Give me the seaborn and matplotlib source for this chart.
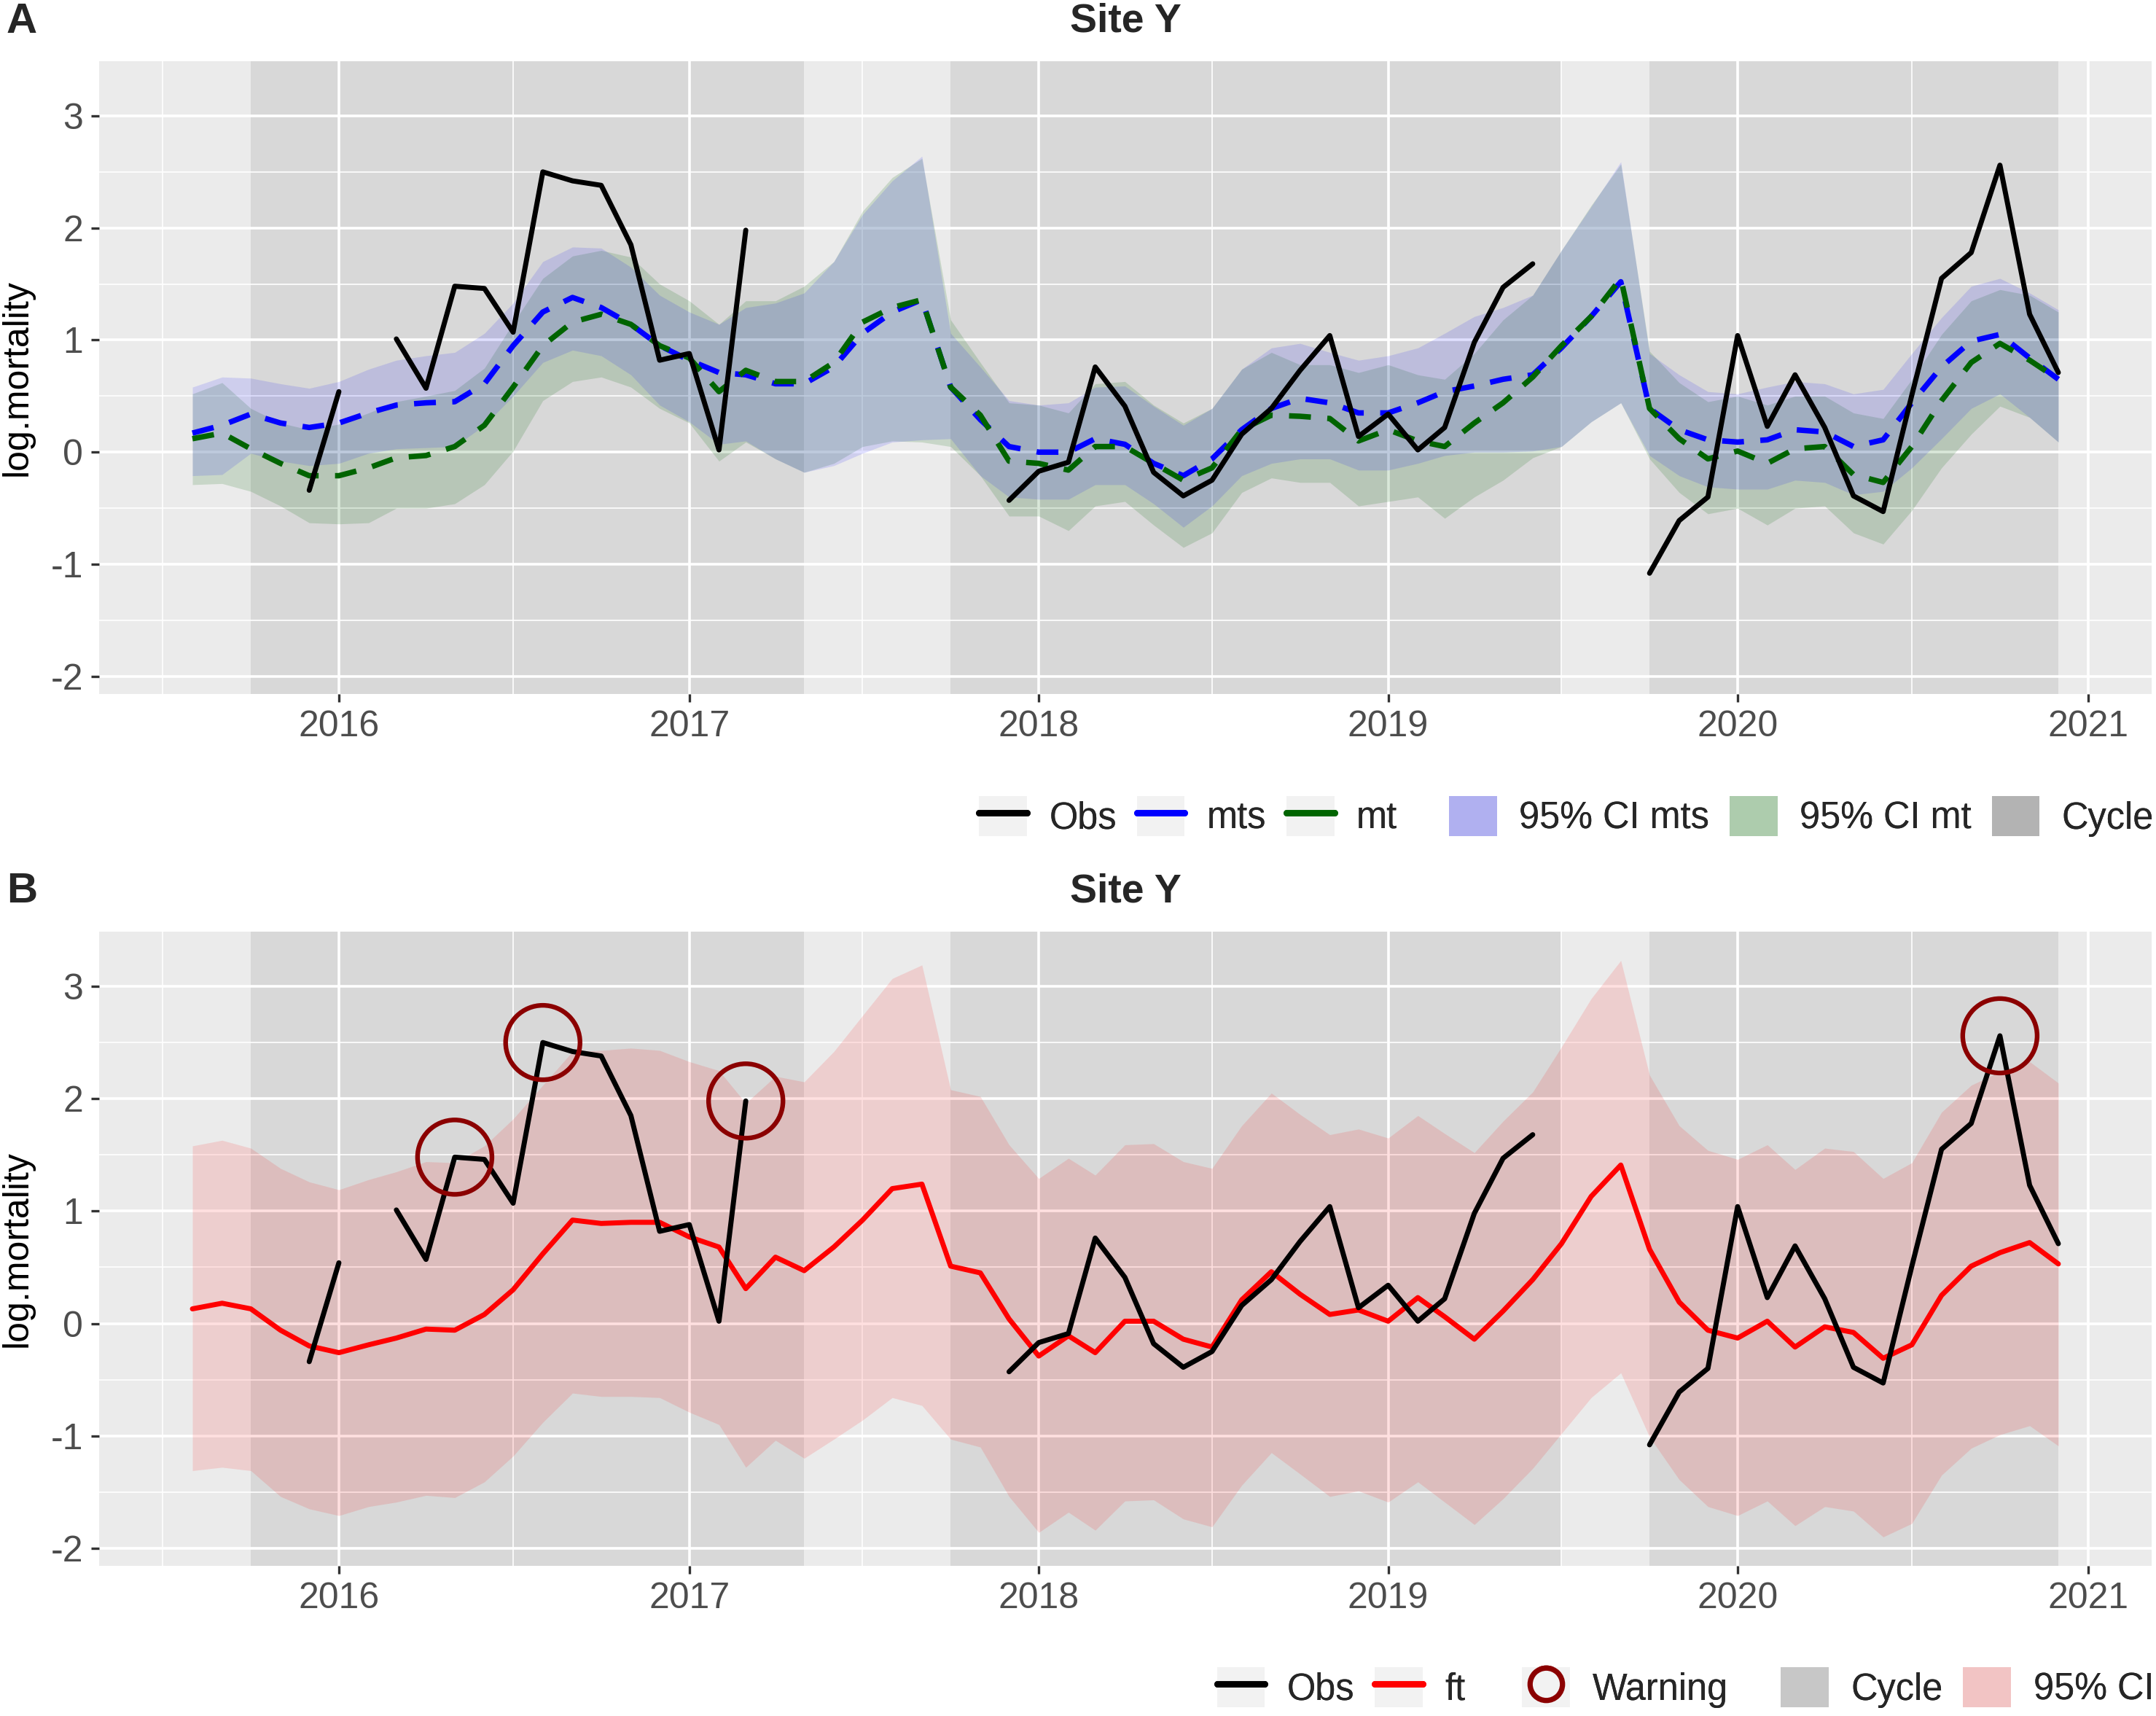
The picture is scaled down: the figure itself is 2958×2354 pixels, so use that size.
import numpy as np
import pandas as pd
import matplotlib
matplotlib.use("Agg")
import matplotlib.pyplot as plt
import matplotlib.dates as mdates
from matplotlib.ticker import MultipleLocator
from matplotlib.lines import Line2D
from matplotlib.patches import Rectangle, Patch
from matplotlib.legend_handler import HandlerBase, HandlerLine2D, HandlerPatch
import seaborn as sns

nan = np.nan
months = pd.date_range("2015-08-01", "2020-12-01", freq="MS")

# ---------------- data (Aug 2015 .. Dec 2020) ----------------
obs = [nan, nan, nan, nan, -0.34,
       0.54, nan, 1.01, 0.57, 1.48, 1.46, 1.07, 2.50, 2.42, 2.38, 1.85, 0.82,
       0.88, 0.02, 1.98, nan, nan, nan, nan, nan, nan, nan, nan, -0.43,
       -0.17, -0.09, 0.76, 0.41, -0.18, -0.39, -0.25, 0.16, 0.39, 0.73, 1.04, 0.14,
       0.34, 0.02, 0.22, 0.98, 1.47, 1.68, nan, nan, nan, -1.08, -0.61, -0.40,
       1.04, 0.23, 0.69, 0.22, -0.39, -0.53, 0.51, 1.55, 1.78, 2.56, 1.23, 0.71]

mts = [0.17, 0.24, 0.34, 0.26, 0.22,
       0.26, 0.35, 0.42, 0.44, 0.45, 0.61, 0.95, 1.25, 1.38, 1.29, 1.14, 0.95,
       0.82, 0.71, 0.69, 0.61, 0.61, 0.76, 1.06, 1.25, 1.36, 0.58, 0.29, 0.05,
       0.00, 0.00, 0.12, 0.07, -0.10, -0.21, -0.06, 0.20, 0.39, 0.48, 0.44, 0.35,
       0.35, 0.44, 0.54, 0.59, 0.65, 0.69, 0.93, 1.21, 1.52, 0.39, 0.20, 0.11,
       0.09, 0.11, 0.20, 0.18, 0.05, 0.11, 0.44, 0.76, 0.99, 1.05, 0.84, 0.65]

mt = [0.12, 0.17, 0.03, -0.10, -0.21,
      -0.21, -0.14, -0.05, -0.03, 0.05, 0.24, 0.58, 0.95, 1.16, 1.23, 1.14, 0.95,
      0.84, 0.54, 0.73, 0.63, 0.63, 0.80, 1.16, 1.29, 1.36, 0.58, 0.33, -0.08,
      -0.10, -0.16, 0.05, 0.05, -0.10, -0.25, -0.14, 0.20, 0.33, 0.32, 0.30, 0.10,
      0.20, 0.10, 0.05, 0.26, 0.44, 0.67, 0.95, 1.21, 1.55, 0.39, 0.12, -0.06,
      0.01, -0.10, 0.03, 0.05, -0.20, -0.27, 0.05, 0.46, 0.80, 0.97, 0.82, 0.65]

mts_hi = [0.58, 0.67, 0.66, 0.61, 0.57,
          0.63, 0.74, 0.82, 0.86, 0.89, 1.06, 1.33, 1.70, 1.83, 1.82, 1.65, 1.40,
          1.25, 1.14, 1.29, 1.33, 1.42, 1.70, 2.12, 2.42, 2.64, 1.06, 0.76, 0.46,
          0.42, 0.44, 0.58, 0.59, 0.41, 0.24, 0.39, 0.74, 0.93, 0.97, 0.89, 0.82,
          0.86, 0.93, 1.06, 1.21, 1.29, 1.40, 1.80, 2.19, 2.59, 0.88, 0.69, 0.54,
          0.52, 0.58, 0.63, 0.61, 0.52, 0.56, 0.88, 1.20, 1.48, 1.55, 1.42, 1.27]

mts_lo = [-0.21, -0.20, -0.01, -0.08, -0.12,
          -0.10, -0.01, 0.03, 0.04, 0.05, 0.24, 0.50, 0.80, 0.91, 0.86, 0.69, 0.42,
          0.27, 0.07, 0.10, -0.06, -0.18, -0.12, -0.01, 0.09, 0.11, 0.12, -0.21, -0.40,
          -0.42, -0.42, -0.29, -0.29, -0.46, -0.67, -0.48, -0.21, -0.10, -0.06, -0.06, -0.16,
          -0.16, -0.10, -0.03, 0.00, 0.00, 0.01, 0.05, 0.27, 0.44, -0.03, -0.21, -0.31,
          -0.33, -0.33, -0.25, -0.27, -0.38, -0.35, -0.14, 0.12, 0.39, 0.52, 0.31, 0.09]

mt_hi = [0.52, 0.62, 0.39, 0.26, 0.20,
         0.25, 0.35, 0.45, 0.50, 0.55, 0.75, 1.15, 1.55, 1.75, 1.80, 1.74, 1.50,
         1.35, 1.14, 1.35, 1.35, 1.48, 1.70, 2.15, 2.45, 2.62, 1.18, 0.80, 0.44,
         0.42, 0.35, 0.61, 0.63, 0.42, 0.26, 0.39, 0.74, 0.89, 0.78, 0.78, 0.71,
         0.78, 0.69, 0.65, 0.88, 1.18, 1.40, 1.80, 2.20, 2.57, 0.90, 0.62, 0.45,
         0.50, 0.42, 0.50, 0.50, 0.35, 0.30, 0.65, 1.05, 1.35, 1.45, 1.40, 1.25]

mt_lo = [-0.29, -0.28, -0.35, -0.48, -0.63,
         -0.64, -0.63, -0.50, -0.50, -0.46, -0.29, 0.01, 0.46, 0.63, 0.67, 0.58, 0.39,
         0.26, -0.08, 0.09, -0.06, -0.18, -0.10, 0.05, 0.10, 0.09, 0.05, -0.21, -0.57,
         -0.57, -0.70, -0.48, -0.44, -0.65, -0.85, -0.72, -0.36, -0.23, -0.27, -0.27, -0.48,
         -0.44, -0.40, -0.59, -0.40, -0.25, -0.05, 0.05, 0.27, 0.44, -0.06, -0.36, -0.55,
         -0.50, -0.65, -0.50, -0.48, -0.72, -0.82, -0.52, -0.14, 0.16, 0.41, 0.31, 0.09]

ft = [0.13, 0.18, 0.13, -0.06, -0.20,
      -0.26, -0.19, -0.13, -0.05, -0.06, 0.08, 0.30, 0.62, 0.92, 0.89, 0.90, 0.90,
      0.77, 0.68, 0.31, 0.59, 0.47, 0.68, 0.92, 1.20, 1.24, 0.51, 0.45, 0.04,
      -0.29, -0.11, -0.26, 0.02, 0.02, -0.14, -0.21, 0.21, 0.46, 0.26, 0.08, 0.12,
      0.02, 0.23, 0.06, -0.14, 0.11, 0.39, 0.71, 1.13, 1.41, 0.66, 0.19, -0.06,
      -0.13, 0.02, -0.21, -0.03, -0.08, -0.31, -0.19, 0.25, 0.51, 0.63, 0.72, 0.53]

ft_hi = [1.58, 1.63, 1.56, 1.38, 1.26,
         1.19, 1.28, 1.35, 1.44, 1.43, 1.58, 1.82, 2.12, 2.42, 2.43, 2.45, 2.43,
         2.33, 2.25, 1.96, 2.20, 2.15, 2.42, 2.74, 3.07, 3.19, 2.08, 2.02, 1.59,
         1.29, 1.47, 1.32, 1.59, 1.60, 1.44, 1.38, 1.76, 2.05, 1.86, 1.68, 1.73,
         1.65, 1.85, 1.69, 1.52, 1.80, 2.06, 2.46, 2.89, 3.23, 2.21, 1.76, 1.54,
         1.46, 1.59, 1.37, 1.56, 1.53, 1.29, 1.43, 1.88, 2.12, 2.24, 2.33, 2.14]

ft_lo = [-1.31, -1.28, -1.31, -1.54, -1.65,
         -1.71, -1.63, -1.59, -1.53, -1.55, -1.41, -1.18, -0.88, -0.62, -0.65, -0.65, -0.66,
         -0.79, -0.90, -1.28, -1.04, -1.20, -1.03, -0.86, -0.66, -0.73, -1.03, -1.10, -1.54,
         -1.86, -1.68, -1.84, -1.58, -1.57, -1.74, -1.81, -1.44, -1.15, -1.34, -1.54, -1.49,
         -1.59, -1.41, -1.59, -1.79, -1.56, -1.29, -0.98, -0.66, -0.44, -1.01, -1.39, -1.63,
         -1.71, -1.58, -1.80, -1.63, -1.67, -1.90, -1.78, -1.35, -1.11, -0.99, -0.91, -1.09]

warning_months = ["2016-05-01", "2016-08-01", "2017-03-01", "2020-10-01"]
cycle_starts = ["2015-10-01", "2017-10-01", "2019-10-01"]
cycle_ends = ["2017-05-01", "2019-07-01", "2020-12-01"]
title = "Site Y"
ylab = "log.mortality"

# ---------------- frames ----------------
df = pd.DataFrame({"date": months, "obs": obs, "mts": mts, "mt": mt,
                   "mts_lo": mts_lo, "mts_hi": mts_hi, "mt_lo": mt_lo, "mt_hi": mt_hi,
                   "ft": ft, "ft_lo": ft_lo, "ft_hi": ft_hi})
df["seg"] = df["obs"].isna().cumsum()
dobs = df.dropna(subset=["obs"])
dwarn = df[df["date"].isin(pd.to_datetime(warning_months))]

# ---------------- style ----------------
sns.set_theme(style="darkgrid")
plt.rcParams["font.family"] = ["Liberation Sans", "DejaVu Sans"]
plt.rcParams["axes.unicode_minus"] = False
BG = "#EBEBEB"
TXT = "#4D4D4D"

W, H, DPI = 2958, 2354, 200
fig = plt.figure(figsize=(W / DPI, H / DPI), dpi=DPI)
fig.patch.set_facecolor("white")

ax_l, ax_r = 136 / W, 2952 / W
axA = fig.add_axes([ax_l, 1 - 952 / H, ax_r - ax_l, (952 - 84) / H])
axB = fig.add_axes([ax_l, 1 - 2148 / H, ax_r - ax_l, (2148 - 1278) / H])

span = months[-1] - months[0]
xmin = months[0] - span * 0.05
xmax = months[-1] + span * 0.05

LW_OBS = 2.5
LW_DASH = 2.7
DASH = (0, (4, 3))


def style_axes(ax):
    ax.set_facecolor(BG)
    for s in ax.spines.values():
        s.set_visible(False)
    ax.set_xlim(xmin, xmax)
    ax.set_ylim(-2.157, 3.487)
    ax.xaxis.set_major_locator(mdates.YearLocator())
    ax.xaxis.set_major_formatter(mdates.DateFormatter("%Y"))
    ax.xaxis.set_minor_locator(mdates.MonthLocator(bymonth=7))
    ax.yaxis.set_major_locator(MultipleLocator(1))
    ax.yaxis.set_minor_locator(MultipleLocator(0.5))
    ax.grid(which="major", color="white", linewidth=1.3)
    ax.grid(which="minor", color="white", linewidth=0.6)
    ax.set_axisbelow(True)
    ax.tick_params(which="major", direction="out", length=4, width=1.2,
                   color="#333333", labelcolor=TXT, labelsize=18, pad=4,
                   bottom=True, left=True)
    ax.tick_params(which="minor", length=0)
    for s, e in zip(cycle_starts, cycle_ends):
        ax.axvspan(pd.Timestamp(s), pd.Timestamp(e), color="#7F7F7F", alpha=0.17,
                   lw=0, zorder=0.5)


for ax in (axA, axB):
    style_axes(ax)

# ---- Panel A ----
axA.fill_between(df["date"], df["mt_lo"], df["mt_hi"], color="#006400", alpha=0.15,
                 lw=0, zorder=1)
axA.fill_between(df["date"], df["mts_lo"], df["mts_hi"], color="#0000FF", alpha=0.12,
                 lw=0, zorder=1.1)
sns.lineplot(data=df, x="date", y="mts", ax=axA, color="#0000FF", lw=LW_DASH,
             linestyle=DASH, zorder=3)
sns.lineplot(data=df, x="date", y="mt", ax=axA, color="#006400", lw=LW_DASH,
             linestyle=DASH, zorder=3)
sns.lineplot(data=dobs, x="date", y="obs", units="seg", estimator=None, ax=axA,
             color="black", lw=LW_OBS, zorder=4)

# ---- Panel B ----
axB.fill_between(df["date"], df["ft_lo"], df["ft_hi"], color="#FF0000", alpha=0.12,
                 lw=0, zorder=1)
sns.lineplot(data=df, x="date", y="ft", ax=axB, color="#FF0000", lw=LW_OBS, zorder=3)
sns.lineplot(data=dobs, x="date", y="obs", units="seg", estimator=None, ax=axB,
             color="black", lw=LW_OBS, zorder=4)
sns.scatterplot(data=dwarn, x="date", y="obs", ax=axB, s=1350, marker="o",
                facecolor="none", edgecolor="#8B0000", linewidth=2.3, zorder=5)

for ax in (axA, axB):
    ax.set_xlabel("")
    ax.set_ylabel(ylab, fontsize=18, color="black", labelpad=8)

# ---- titles & panel tags ----
cx = (ax_l + ax_r) / 2
fig.text(cx, 1 - 30 / H, title, ha="center", va="center", fontsize=20, fontweight="bold")
fig.text(cx, 1 - 1223 / H, title, ha="center", va="center", fontsize=20, fontweight="bold")
fig.text(0.003, 1 - 30 / H, "A", ha="left", va="center", fontsize=21, fontweight="bold")
fig.text(0.003, 1 - 1223 / H, "B", ha="left", va="center", fontsize=21, fontweight="bold")


# ---- legends ----
class KeyBG(HandlerBase):
    def __init__(self, inner):
        super().__init__()
        self.inner = inner

    def create_artists(self, legend, orig_handle, xdescent, ydescent, width, height,
                       fontsize, trans):
        bg = Rectangle((-xdescent, -ydescent), width, height, facecolor="#F2F2F2",
                       edgecolor="none", transform=trans)
        arts = self.inner.create_artists(legend, orig_handle, xdescent, ydescent,
                                         width, height, fontsize, trans)
        return [bg] + list(arts)


def add_legend(handles, labels, x, y, loc):
    hm = {}
    for h in handles:
        if isinstance(h, Line2D):
            hm[h] = KeyBG(HandlerLine2D())
        else:
            hm[h] = KeyBG(HandlerPatch())
    leg = fig.legend(handles, labels, loc=loc, bbox_to_anchor=(x, y),
                     ncol=len(handles), frameon=False, fontsize=18.2,
                     handlelength=1.3, handleheight=1.3, handletextpad=0.6,
                     columnspacing=0.55, borderpad=0, borderaxespad=0,
                     handler_map=hm)
    fig.add_artist(leg)
    return leg


h_obs = Line2D([], [], color="black", lw=3.2)
h_mts = Line2D([], [], color="#0000FF", lw=3.2)
h_mt = Line2D([], [], color="#006400", lw=3.2)
h_cimts = Patch(facecolor="#B0B0F0", edgecolor="none")
h_cimt = Patch(facecolor="#ADCCAD", edgecolor="none")
h_cycA = Patch(facecolor="#B3B3B3", edgecolor="none")
yA = 1 - 1120 / H
add_legend([h_obs, h_mts, h_mt], ["Obs", "mts", "mt"], 712 / 1568, yA, "center left")
add_legend([h_cimts, h_cimt, h_cycA], ["95% CI mts", "95% CI mt", "Cycle"], 0.999, yA,
           "center right")

h_ft = Line2D([], [], color="#FF0000", lw=3.2)
h_warn = Line2D([], [], color="#8B0000", marker="o", markersize=16, mfc="none",
                mew=2.6, lw=0)
h_cycB = Patch(facecolor="#C7C7C7", edgecolor="none")
h_ci = Patch(facecolor="#F2C4C4", edgecolor="none")
yB = 1 - 2315 / H
add_legend([h_obs, h_ft], ["Obs", "ft"], 885 / 1568, yB, "center left")
add_legend([h_warn], ["Warning"], 1107 / 1568, yB, "center left")
add_legend([h_cycB, h_ci], ["Cycle", "95% CI"], 0.999, yB, "center right")

fig.savefig("out.png", dpi=DPI, facecolor="white")
